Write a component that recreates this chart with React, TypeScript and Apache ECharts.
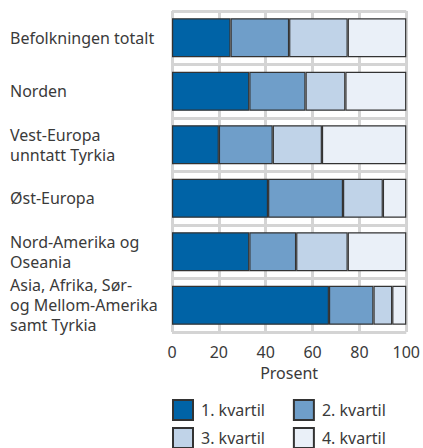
import React, { useEffect, useRef } from "react";
import * as echarts from "echarts";

const categories = [
  "Befolkningen totalt",
  "Norden",
  "Vest-Europa\nunntatt Tyrkia",
  "Øst-Europa",
  "Nord-Amerika og\nOseania",
  "Asia, Afrika, Sør-\nog Mellom-Amerika\nsamt Tyrkia",
];
const seriesNames = ["1. kvartil", "2. kvartil", "3. kvartil", "4. kvartil"];
const q1 = [25, 33, 20, 41, 33, 67];
const q2 = [25, 24, 23, 32, 20, 19];
const q3 = [25, 17, 21, 17, 22, 8];
const q4 = [25, 26, 36, 10, 25, 6];
const xTicks = [0, 20, 40, 60, 80, 100];
const colors = ["#0063a6", "#6f9ec9", "#c0d3e8", "#eaf0f8"];

const FONT = "Noto Sans";
const TEXT = "#3a3a3a";
const FS = 16;

export default function App() {
  const ref = useRef<HTMLDivElement>(null);
  useEffect(() => {
    const chart = echarts.init(ref.current!, null, { renderer: "svg" });
    const values = [q1, q2, q3, q4];
    const legendBase = {
      left: 172,
      padding: 0,
      icon: "rect",
      itemWidth: 20,
      itemHeight: 20,
      itemGap: 28,
      textStyle: {
        fontSize: FS,
        color: TEXT,
        fontFamily: FONT,
        padding: [0, 0, 0, 3],
      },
    };
    chart.setOption({
      animation: false,
      textStyle: { fontFamily: FONT },
      grid: { left: 172, right: 15.5, top: 11, bottom: 116 },
      xAxis: {
        type: "value",
        min: xTicks[0],
        max: xTicks[xTicks.length - 1],
        interval: 20,
        name: "Prosent",
        nameLocation: "middle",
        nameGap: 30,
        nameTextStyle: { fontSize: FS, color: TEXT, fontFamily: FONT },
        axisLine: { show: false },
        axisTick: { show: false },
        axisLabel: { fontSize: FS, color: TEXT, margin: 12, fontFamily: FONT },
        splitLine: { show: true, lineStyle: { color: "#d4d4d4", width: 3 } },
      },
      yAxis: {
        type: "category",
        inverse: true,
        data: categories,
        axisLine: { show: false },
        axisTick: { show: false },
        axisLabel: {
          fontSize: FS,
          color: TEXT,
          align: "left",
          margin: 162,
          lineHeight: 20,
          fontFamily: FONT,
        },
        splitLine: { show: true, lineStyle: { color: "#d4d4d4", width: 3 } },
      },
      legend: [
        { ...legendBase, data: seriesNames.slice(0, 2), top: 399 },
        { ...legendBase, data: seriesNames.slice(2, 4), top: 427 },
      ],
      series: seriesNames.map((name, i) => ({
        name,
        type: "bar",
        stack: "total",
        barWidth: 39,
        data: values[i],
        itemStyle: { color: colors[i], borderColor: "#333333", borderWidth: 1.2 },
      })),
    });
    return () => chart.dispose();
  }, []);
  return (
    <div
      ref={ref}
      style={{ width: 423, height: 448, position: "absolute", left: 0, top: 0 }}
    />
  );
}
